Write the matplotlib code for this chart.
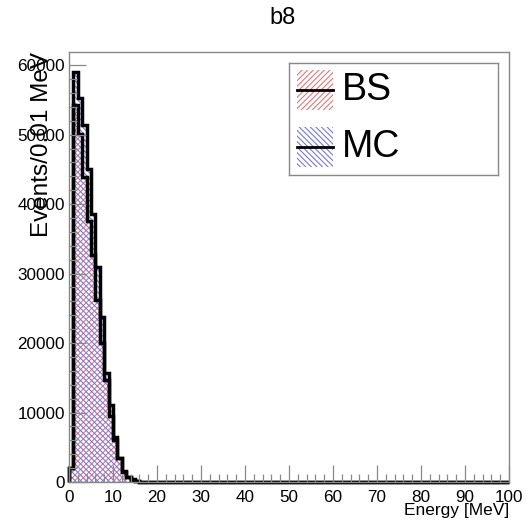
#!/usr/bin/env python3
import numpy as np
import matplotlib as mpl
import matplotlib.pyplot as plt

# energy spectra, 1 MeV bins from 0 to 100 MeV
bin_edges = np.arange(0, 101, 1)
bs_counts = [2000, 54300, 50100, 43900, 37500, 32700, 26200, 20000, 14700, 9500,
             6000, 3400, 1600, 700, 300, 80, 30] + [0] * 83
mc_counts = [2000, 58950, 55300, 51400, 45100, 38600, 31000, 23800, 15700, 11100,
             6500, 3450, 1400, 720, 430, 120, 40] + [0] * 83

x_ticks = list(range(0, 101, 10))
y_ticks = list(range(0, 60001, 10000))

BS_COLOR = "#e07878"
MC_COLOR = "#7878e0"

mpl.rcParams.update({
    "font.family": "Liberation Sans",
    "font.size": 12,
    "hatch.linewidth": 0.8,
})

fig = plt.figure(figsize=(5.27, 5.24), dpi=100, facecolor="white")
ax = fig.add_axes([69 / 527, 42 / 524, 440 / 527, 430 / 524])

# hatched fills
ax.stairs(bs_counts, bin_edges, fill=True, facecolor="none", edgecolor=BS_COLOR,
          hatch="//////", linewidth=0)
ax.stairs(mc_counts, bin_edges, fill=True, facecolor="none", edgecolor=MC_COLOR,
          hatch="\\\\\\\\\\\\", linewidth=0)
# outlines
ax.stairs(bs_counts, bin_edges, color="black", linewidth=2.5, clip_on=False)
ax.stairs(mc_counts, bin_edges, color="black", linewidth=2.5, clip_on=False)

ax.set_xlim(0, 100)
ax.set_ylim(0, 61900)
ax.set_xticks(x_ticks)
ax.set_yticks(y_ticks)
ax.set_xticks(np.arange(0, 101, 2), minor=True)
ax.set_yticks(np.arange(0, 61901, 2000), minor=True)
ax.tick_params(which="both", direction="in", top=False, right=False,
               color="#888888", width=0.9, labelsize=12.3, labelcolor="black")
ax.tick_params(which="major", length=12)
ax.tick_params(which="minor", length=6)
ax.tick_params(axis="x", pad=6)
ax.tick_params(axis="y", pad=3)
for s in ax.spines.values():
    s.set_color("#888888")
    s.set_linewidth(1.0)

ax.set_xlabel("Energy [MeV]", ha="right", x=1.0, fontsize=12.5, labelpad=-2)
ax.set_ylabel("Events/0.01 MeV", ha="right", y=1.0, fontsize=17.5, labelpad=-26)
fig.text(283 / 527, 1 - 18 / 524, "b8", ha="center", va="center", fontsize=17)

# legend box
leg_ax = fig.add_axes([289 / 527, 1 - 175 / 524, 209 / 527, 112 / 524])
leg_ax.set_xlim(0, 209)
leg_ax.set_ylim(112, 0)
leg_ax.set_xticks([])
leg_ax.set_yticks([])
for s in leg_ax.spines.values():
    s.set_color("#888888")
    s.set_linewidth(1.0)
entries = [("BS", BS_COLOR, "//////", 27), ("MC", MC_COLOR, "\\\\\\\\\\\\", 84)]
for label, col, hatch, yc in entries:
    leg_ax.add_patch(mpl.patches.Rectangle((8, yc - 20), 36, 40, facecolor="none",
                                           edgecolor=col, hatch=hatch, linewidth=0))
    leg_ax.plot([8, 44], [yc, yc], color="black", linewidth=2.0)
    leg_ax.text(53, yc, label, ha="left", va="center", fontsize=27)

fig.savefig("out.png", dpi=100, facecolor="white")
